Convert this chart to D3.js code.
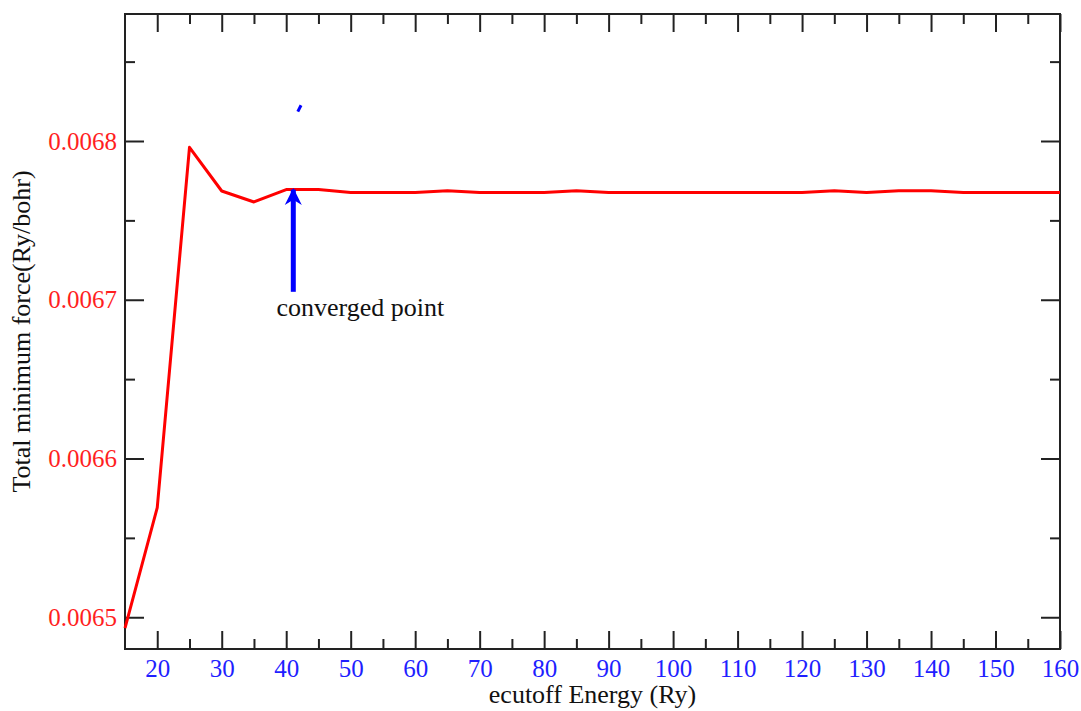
<!DOCTYPE html>
<html>
<head>
<meta charset="utf-8">
<script src="https://cdn.jsdelivr.net/npm/d3@7"></script>
<style>
  body { margin: 0; background: #fff; }
  text { font-family: "Liberation Serif", "DejaVu Serif", serif; }
</style>
</head>
<body>
<script>
// data
var energies = [15, 20, 25, 30, 35, 40, 45, 50, 55, 60, 65, 70, 75, 80, 85, 90, 95, 100,
                105, 110, 115, 120, 125, 130, 135, 140, 145, 150, 155, 160];
var forces = [0.0064932, 0.006569, 0.006796, 0.0067685, 0.0067616, 0.0067694, 0.0067694, 0.0067676,
              0.0067676, 0.0067676, 0.0067686, 0.0067676, 0.0067676, 0.0067676, 0.0067686, 0.0067676,
              0.0067676, 0.0067676, 0.0067676, 0.0067676, 0.0067676, 0.0067676, 0.0067686, 0.0067676,
              0.0067686, 0.0067686, 0.0067676, 0.0067676, 0.0067676, 0.0067676];
var xMajor = [20, 30, 40, 50, 60, 70, 80, 90, 100, 110, 120, 130, 140, 150, 160];
var xMinor = [25, 35, 45, 55, 65, 75, 85, 95, 105, 115, 125, 135, 145, 155];
var yMajor = [0.0065, 0.0066, 0.0067, 0.0068];
var yMinor = [0.00655, 0.00665, 0.00675, 0.00685];
var arrowX = 41.1, arrowFrom = 0.006705, arrowTo = 0.0067694; // "converged point" arrow

var w = 1081, h = 711;
var pLeft = 125, pRight = 1060, pTop = 14, pBottom = 649; // plot box (window.top is taken)

var svg = d3.select("body").append("svg").attr("width", w).attr("height", h);

var x = d3.scaleLinear().domain([15, 160]).range([pLeft, pRight]);
var y = d3.scaleLinear().domain([0.00648, 0.00688]).range([pBottom, pTop]);

// frame
svg.append("rect").attr("x", pLeft).attr("y", pTop)
  .attr("width", pRight - pLeft).attr("height", pBottom - pTop)
  .attr("fill", "none").attr("stroke", "#222").attr("stroke-width", 2);

// helper to draw ticks pointing inward, no domain path
function drawAxis(axis, tx, ty) {
  var g = svg.append("g").attr("transform", "translate(" + tx + "," + ty + ")").call(axis);
  g.select(".domain").remove();
  g.selectAll(".tick line").attr("stroke", "#222").attr("stroke-width", 2);
  return g;
}

// bottom major with labels
var gx = drawAxis(d3.axisBottom(x).tickValues(xMajor).tickSizeInner(-18).tickSizeOuter(0).tickPadding(10), 0, pBottom);
gx.selectAll("text").attr("fill", "#1f1fff").style("font-size", "25px").style("font-family", "Liberation Serif, serif");
drawAxis(d3.axisBottom(x).tickValues(xMinor).tickSizeInner(-10).tickFormat(""), 0, pBottom);
// top mirrored
drawAxis(d3.axisTop(x).tickValues(xMajor).tickSizeInner(-18).tickFormat(""), 0, pTop);
drawAxis(d3.axisTop(x).tickValues(xMinor).tickSizeInner(-10).tickFormat(""), 0, pTop);

// left major with labels
var gy = drawAxis(d3.axisLeft(y).tickValues(yMajor).tickSizeInner(-19).tickSizeOuter(0).tickPadding(8)
  .tickFormat(d3.format(".4f")), pLeft, 0);
gy.selectAll("text").attr("fill", "#ff1f1f").style("font-size", "25px").style("font-family", "Liberation Serif, serif");
drawAxis(d3.axisLeft(y).tickValues(yMinor).tickSizeInner(-10).tickFormat(""), pLeft, 0);
// right mirrored
drawAxis(d3.axisRight(y).tickValues(yMajor).tickSizeInner(-19).tickFormat(""), pRight, 0);
drawAxis(d3.axisRight(y).tickValues(yMinor).tickSizeInner(-10).tickFormat(""), pRight, 0);

// the red curve
var line = d3.line()
  .x(function (d, i) { return x(energies[i]); })
  .y(function (d) { return y(d); });
svg.append("path").datum(forces).attr("d", line)
  .attr("fill", "none").attr("stroke", "#ff0000").attr("stroke-width", 3)
  .attr("stroke-linejoin", "round");

// arrow pointing at the converged point
svg.append("defs").append("marker").attr("id", "head")
  .attr("viewBox", "0 0 10 10").attr("refX", 9).attr("refY", 5)
  .attr("markerWidth", 17).attr("markerHeight", 19).attr("markerUnits", "userSpaceOnUse")
  .attr("orient", "auto")
  .append("path").attr("d", "M0,0 L10,5 L0,10 L3,5 Z").attr("fill", "#0000ff");
svg.append("line")
  .attr("x1", x(arrowX)).attr("y1", y(arrowFrom))
  .attr("x2", x(arrowX)).attr("y2", y(arrowTo))
  .attr("stroke", "#0000ff").attr("stroke-width", 5)
  .attr("marker-end", "url(#head)");

// small stray blue mark above the arrow
svg.append("line")
  .attr("x1", x(41.8)).attr("y1", y(0.0068185))
  .attr("x2", x(42.3)).attr("y2", y(0.0068225))
  .attr("stroke", "#0000ff").attr("stroke-width", 3);

svg.append("text").attr("x", x(arrowX) + 67).attr("y", 316)
  .attr("text-anchor", "middle").style("font-size", "26px").attr("fill", "#111")
  .text("converged point");

// axis titles
svg.append("text").attr("x", (pLeft + pRight) / 2).attr("y", 703)
  .attr("text-anchor", "middle").style("font-size", "26px").attr("fill", "#111")
  .text("ecutoff Energy (Ry)");
svg.append("text").attr("transform", "translate(30," + ((pTop + pBottom) / 2) + ") rotate(-90)")
  .attr("text-anchor", "middle").style("font-size", "26px").attr("fill", "#111")
  .text("Total minimum force(Ry/bohr)");
</script>
</body>
</html>
